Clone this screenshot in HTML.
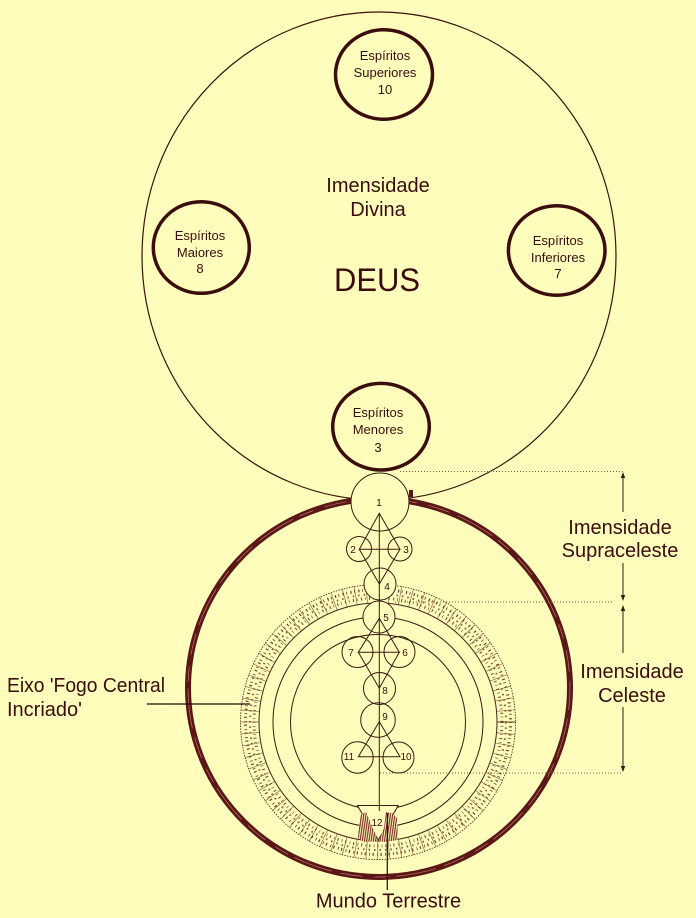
<!DOCTYPE html>
<html><head><meta charset="utf-8"><style>
html,body{margin:0;padding:0;background:#FFFDBB;}
svg{display:block;}
text{font-family:"Liberation Sans",Arial,sans-serif;fill:#3a0c0c;}
</style></head><body>
<svg width="696" height="918" viewBox="0 0 696 918" xmlns="http://www.w3.org/2000/svg">
<defs>
<pattern id="hatch" width="2.2" height="4" patternUnits="userSpaceOnUse" patternTransform="rotate(8)">
<rect width="2.2" height="4" fill="#FFFDBB"/>
<line x1="0.6" y1="0" x2="0.6" y2="4" stroke="#7a2a20" stroke-width="1.2"/>
</pattern>
</defs>
<rect width="696" height="918" fill="#FFFDBB"/>

<!-- big divine circle -->
<ellipse cx="379" cy="256" rx="237" ry="244" fill="none" stroke="#3a1208" stroke-width="1.2"/>

<!-- thick outer ring -->
<ellipse cx="379" cy="688" rx="191" ry="189" fill="none" stroke="#5b1616" stroke-width="6"/>
<ellipse cx="379" cy="688" rx="191" ry="189" fill="none" stroke="#b8786a" stroke-width="0.7" stroke-dasharray="22 9 40 7 15 12"/>

<!-- hatched band -->
<g fill="none">
<circle cx="378" cy="722" r="128.5" stroke="#7a5038" stroke-width="18" stroke-dasharray="0.7 10.5" opacity="0.85"/>
<circle cx="378" cy="722" r="124" stroke="#6b4030" stroke-width="3" stroke-dasharray="1 3 0.6 3.5"/>
<circle cx="378" cy="722" r="132.5" stroke="#6b4030" stroke-width="3" stroke-dasharray="0.8 3.5 1.2 2.5"/>
<circle cx="378" cy="722" r="128" stroke="#8a6040" stroke-width="2" stroke-dasharray="1.5 4"/>
<circle cx="378" cy="722" r="137.5" stroke="#5a3020" stroke-width="0.9" stroke-dasharray="1.5 1.2"/>
<circle cx="378" cy="722" r="119" stroke="#4a2418" stroke-width="1"/>
</g>

<!-- inner thin circles -->
<circle cx="378" cy="722" r="105" fill="none" stroke="#3a1a10" stroke-width="1"/>
<circle cx="378" cy="722" r="87.5" fill="none" stroke="#3a1a10" stroke-width="1"/>

<!-- dotted level lines -->
<g stroke="#7a5a3a" stroke-width="1" stroke-dasharray="1 2">
<line x1="400" y1="471.5" x2="623" y2="471.5"/>
<line x1="395" y1="602" x2="612" y2="602"/>
<line x1="380" y1="773" x2="622" y2="773"/>
</g>

<!-- arrows -->
<g stroke="#3a1a10" stroke-width="1">
<line x1="623" y1="477" x2="623" y2="512"/>
<line x1="623" y1="563" x2="623" y2="597"/>
<line x1="623" y1="609" x2="623" y2="653"/>
<line x1="623" y1="707" x2="623" y2="768"/>
</g>
<g fill="#3a1a10">
<polygon points="623,472 620.8,478 625.2,478"/>
<polygon points="623,601 620.8,595 625.2,595"/>
<polygon points="623,605 620.8,611 625.2,611"/>
<polygon points="623,772 620.8,766 625.2,766"/>
</g>

<!-- circle 1 -->
<circle cx="380" cy="502" r="29" fill="#FFFDBB" stroke="#3a1a10" stroke-width="1"/>
<rect x="409" y="490" width="4" height="7" fill="#5b1616"/>

<!-- tree circles -->
<g fill="none" stroke="#3a1a10" stroke-width="1">
<circle cx="359" cy="549" r="12.5"/>
<circle cx="400" cy="549" r="12"/>
<circle cx="380" cy="584" r="16" fill="#FFFDBB"/>
<circle cx="379" cy="617" r="16" fill="#FFFDBB"/>
<circle cx="357.5" cy="652" r="15.5"/>
<circle cx="399.5" cy="652" r="15.5"/>
<circle cx="379.5" cy="688.5" r="16"/>
<circle cx="378" cy="720" r="17.3"/>
<circle cx="357.5" cy="757.5" r="15.7"/>
<circle cx="398.5" cy="757.5" r="15.5"/>
</g>
<!-- tree lines -->
<g fill="none" stroke="#3a1a10" stroke-width="1">
<polygon points="379.3,513.3 359.3,549.3 400,549.3"/>
<polyline points="359.3,549.3 379.3,584 400,549.3"/>
<polygon points="379.3,618.3 358.3,652.3 399.3,652.3"/>
<polyline points="358.3,652.3 379.3,688.3 399.3,652.3"/>
<polygon points="379.3,721.7 358.3,756.7 400,756.7"/>
<line x1="379.3" y1="513" x2="379.3" y2="811"/>
</g>

<!-- trapezoid 12 -->
<polygon points="357.3,805.5 398.3,805.5 378.3,840" fill="#FFFDBB" stroke="#3a1a10" stroke-width="1"/>
<polygon points="360,815 366,812 372,826 378,841 364,842 358,838" fill="url(#hatch)" opacity="0.95"/>
<polygon points="386,812 392,813 397,818 398,840 384,842 379,841 384,828" fill="url(#hatch)" opacity="0.95"/>
<line x1="379.3" y1="806" x2="379.3" y2="811" stroke="#3a1a10" stroke-width="1"/>
<line x1="387.3" y1="813" x2="387.3" y2="890" stroke="#1e0a06" stroke-width="1.2"/>

<!-- tree numbers -->
<g text-anchor="middle" style="font-size:10px">
<text x="379" y="506">1</text>
<text x="353" y="553">2</text>
<text x="406" y="553">3</text>
<text x="387" y="590">4</text>
<text x="386" y="621">5</text>
<text x="351" y="656">7</text>
<text x="405" y="656">6</text>
<text x="385" y="694">8</text>
<text x="385" y="720">9</text>
<text x="349" y="760">11</text>
<text x="406" y="760">10</text>
<text x="377" y="826">12</text>
</g>

<!-- Eixo pointer -->
<line x1="147" y1="704" x2="250" y2="704" stroke="#1e0a06" stroke-width="1.2"/>

<!-- spirit circles -->
<g fill="none" stroke="#3b0d0d" stroke-width="3.5">
<ellipse cx="384" cy="74.5" rx="48.5" ry="44.8"/>
<ellipse cx="201.3" cy="247.5" rx="48" ry="45.8"/>
<ellipse cx="556.7" cy="250.5" rx="48.3" ry="44.8"/>
<ellipse cx="381" cy="426.7" rx="48.3" ry="43.3"/>
</g>
<g text-anchor="middle" style="font-size:13px">
<text x="385" y="60">Espíritos</text>
<text x="385" y="77">Superiores</text>
<text x="385" y="94">10</text>
<text x="200" y="240">Espíritos</text>
<text x="200" y="257">Maiores</text>
<text x="200" y="273">8</text>
<text x="558" y="245">Espíritos</text>
<text x="558" y="262">Inferiores</text>
<text x="558" y="278">7</text>
<text x="378" y="417">Espíritos</text>
<text x="378" y="434">Menores</text>
<text x="378" y="452">3</text>
</g>

<!-- main labels -->
<g text-anchor="middle" style="font-size:20px">
<text x="378" y="192">Imensidade</text>
<text x="378" y="216">Divina</text>
<text x="620" y="534">Imensidade</text>
<text x="620" y="557">Supraceleste</text>
<text x="632" y="678">Imensidade</text>
<text x="632" y="702">Celeste</text>
<text x="388.5" y="907.5">Mundo Terrestre</text>
</g>
<text x="377" y="291" text-anchor="middle" style="font-size:32px" textLength="86" lengthAdjust="spacingAndGlyphs">DEUS</text>
<text x="7" y="692" style="font-size:20px" textLength="158" lengthAdjust="spacingAndGlyphs">Eixo 'Fogo Central</text>
<text x="7" y="716" style="font-size:20px">Incriado'</text>
</svg>
</body></html>
